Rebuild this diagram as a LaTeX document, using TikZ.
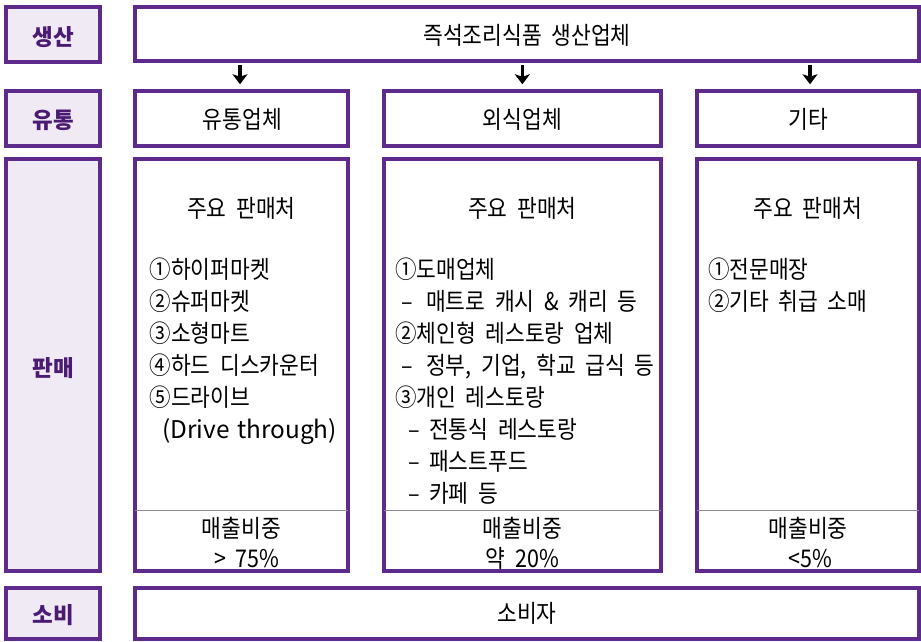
\documentclass[tikz,border=0pt]{standalone}
\usepackage{fontspec}
\setmainfont{Noto Sans CJK KR}[WordSpace=2, FakeStretch=0.88]
\newfontfamily\labfont{Noto Sans CJK KR}
\newfontfamily\latfont{Noto Sans CJK KR}[WordSpace=1.4]
\usetikzlibrary{arrows.meta}
\definecolor{pp}{HTML}{5E2B8D}
\definecolor{lav}{HTML}{F0EAF4}
\definecolor{ptxt}{HTML}{4B1A72}
\tikzset{
  frame/.style={draw=pp, line width=4pt, inner sep=0pt},
  lab/.style={frame, fill=lav},
  labtxt/.style={anchor=base, inner sep=0pt, text=ptxt, font=\labfont\fontsize{22.5}{26}\selectfont\bfseries},
  txt/.style={anchor=base, inner sep=0pt, font=\fontsize{24.4}{28}\selectfont},
  ltxt/.style={anchor=base west, inner sep=0pt, font=\fontsize{24.4}{28}\selectfont},
  arr/.style={line width=3.2pt, -{Stealth[length=10pt,width=15pt,inset=2.5pt]}, shorten <=1.5pt, shorten >=5pt},
  sep/.style={draw=gray!90, line width=0.8pt}
}
\newcommand{\dsh}[1]{\makebox[#1][l]{–}}
\begin{document}
\begin{tikzpicture}[x=1pt,y=-1pt]
\useasboundingbox (0,0) rectangle (921,642);
% left labels
\node[lab, minimum width=94pt, minimum height=55pt] (Lp) at (52.7,34.2) {};
\node[lab, minimum width=94pt, minimum height=54.7pt] (Ld) at (52.7,118.6) {};
\node[lab, minimum width=94pt, minimum height=411.7pt] (Ls) at (52.7,365.2) {};
\node[lab, minimum width=94pt, minimum height=51pt] (Lc) at (52.7,613) {};
\node[labtxt] (Lpt) at (53,45.5) {생산};
\node[labtxt] (Ldt) at (53,128) {유통};
\node[labtxt] (Lst) at (53,376) {판매};
\node[labtxt] (Lct) at (53,623.5) {소비};
% main boxes
\node[frame, minimum width=783.7pt, minimum height=54.3pt] (prod) at (527.15,34.2) {};
\node[frame, minimum width=212.2pt, minimum height=54.7pt] (dist) at (241.4,118.6) {};
\node[frame, minimum width=277.3pt, minimum height=54.7pt] (food) at (522.35,118.6) {};
\node[frame, minimum width=222pt, minimum height=54.7pt] (etc) at (808,118.6) {};
\node[frame, minimum width=212.2pt, minimum height=411.7pt] (s1) at (241.4,365.2) {};
\node[frame, minimum width=277.3pt, minimum height=411.7pt] (s2) at (522.35,365.2) {};
\node[frame, minimum width=222pt, minimum height=411.7pt] (s3) at (808,365.2) {};
\node[frame, minimum width=783.7pt, minimum height=51pt] (cons) at (527.15,613) {};
% separators
\foreach \b in {s1,s2,s3}{
  \draw[sep] ([xshift=2pt]\b.west |- 0,510.7) -- ([xshift=-2pt]\b.east |- 0,510.7);
}
% arrows
\draw[arr] ([xshift=-1.4pt]dist.north |- prod.south) -- ([xshift=-1.4pt]dist.north);
\draw[arr] (food.north |- prod.south) -- (food.north);
\draw[arr] ([xshift=2pt]etc.north |- prod.south) -- ([xshift=2pt]etc.north);
% texts
\node[txt] (tp) at (527,45) {즉석조리식품 생산업체};
\node[txt] (td) at (242.5,128) {유통업체};
\node[txt] (tf) at (522.4,128) {외식업체};
\node[txt] (te) at (808,128) {기타};
\node[txt] (tc) at (527,622) {소비자};
\node[txt] (h1) at (241.4,217) {주요 판매처};
\node[txt] (h2) at (522.4,217) {주요 판매처};
\node[txt] (h3) at (808,217) {주요 판매처};
% column 1
\node[ltxt] (a1) at (149.5,278) {①하이퍼마켓};
\node[ltxt] (a2) at (149.5,310) {②슈퍼마켓};
\node[ltxt] (a3) at (149.5,342) {③소형마트};
\node[ltxt] (a4) at (149.5,374) {④하드 디스카운터};
\node[ltxt] (a5) at (149.5,406) {⑤드라이브};
\node[ltxt] (a6) at (162,438) {\latfont(Drive through)};
% column 2
\node[ltxt] (b1) at (395,278) {①도매업체};
\node[ltxt] (b2) at (401,310) {\dsh{25pt}매트로 캐시 \& 캐리 등};
\node[ltxt] (b3) at (395,342) {②체인형 레스토랑 업체};
\node[ltxt] (b4) at (401,374) {\dsh{25pt}정부, 기업, 학교 급식 등};
\node[ltxt] (b5) at (395,406) {③개인 레스토랑};
\node[ltxt] (b6) at (408,438) {\dsh{21pt}전통식 레스토랑};
\node[ltxt] (b7) at (408,470) {\dsh{21pt}패스트푸드};
\node[ltxt] (b8) at (408,502) {\dsh{21pt}카페 등};
% column 3
\node[ltxt] (c1) at (708,278) {①전문매장};
\node[ltxt] (c2) at (708,310) {②기타 취급 소매};
% shares
\node[txt] (m1) at (241.4,537) {매출비중};
\node[txt] (m2) at (522.4,537) {매출비중};
\node[txt] (m3) at (808,537) {매출비중};
\node[txt] (p1) at (247,567) {> 75\%};
\node[txt] (p2) at (522.4,567) {약 20\%};
\node[txt] (p3) at (810,567) {<5\%};
\end{tikzpicture}
\end{document}
